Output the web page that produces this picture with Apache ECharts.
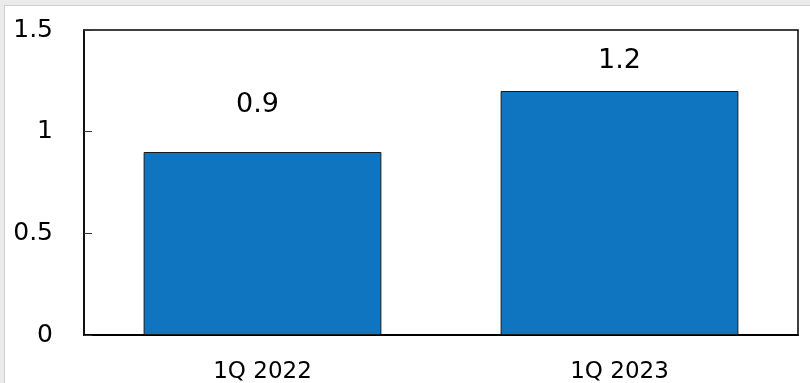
<!DOCTYPE html>
<html>
<head>
<meta charset="utf-8">
<script src="https://cdn.jsdelivr.net/npm/echarts@6/dist/echarts.min.js"></script>
<style>
    html, body { margin: 0; padding: 0; background: #ebebeb; }
    #bar_chart {
        position: absolute; left: 4px; top: 5px;
        width: 806px; height: 378px;
        border-left: 1px solid #cfcfcf; border-top: 1px solid #cfcfcf;
        background: #fff;
    }
</style>
</head>
<body>
<div id="bar_chart"></div>
<script>
var categories = ['1Q 2022', '1Q 2023'];
var values = [0.9, 1.2];
var yTicks = [0, 0.5, 1, 1.5];

// label gaps above each bar differ in the original
var labelDistance = [34, 17];
var labelShift = [-5, 0];

function bar_draw() {
    var chart = echarts.init(document.getElementById('bar_chart'));

    var data = values.map(function (v, i) {
        return {
            value: v,
            label: { distance: labelDistance[i], offset: [labelShift[i], 0] }
        };
    });

    var option = {
        animation: false,
        textStyle: { fontFamily: 'DejaVu Sans' },
        grid: {
            left: 79, right: 13, top: 24, bottom: 47,
            show: true,
            borderColor: '#000',
            borderWidth: 1.5
        },
        xAxis: {
            type: 'category',
            data: categories,
            axisLine: { lineStyle: { color: '#000', width: 2 } },
            axisTick: { inside: true, length: 7, lineStyle: { color: '#000', width: 2 } },
            axisLabel: { color: '#000', fontSize: 23, margin: 26 }
        },
        yAxis: {
            type: 'value',
            min: yTicks[0],
            max: yTicks[yTicks.length - 1],
            interval: 0.5,
            splitLine: { show: false },
            axisLine: { show: true, lineStyle: { color: '#000', width: 1.5 } },
            axisTick: { show: true, inside: true, length: 8, lineStyle: { color: '#333', width: 1 } },
            axisLabel: { color: '#000', fontSize: 25, margin: 31 }
        },
        series: [{
            type: 'bar',
            data: data,
            barWidth: '66.6%',
            itemStyle: { color: '#0f75c1', borderColor: '#1a1a1a', borderWidth: 1 },
            label: { show: true, position: 'top', color: '#000', fontSize: 27 }
        }]
    };

    chart.setOption(option);
    window.onresize = chart.resize;
}

bar_draw();
</script>
</body>
</html>
